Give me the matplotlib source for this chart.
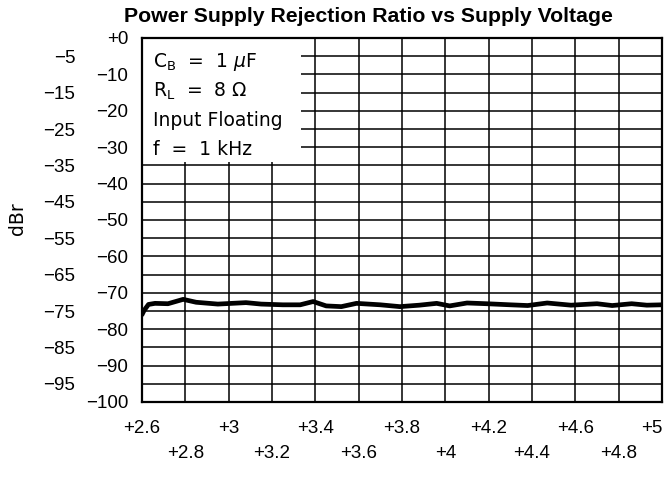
import matplotlib
matplotlib.use("Agg")
import matplotlib.pyplot as plt
from matplotlib.patches import Rectangle
import numpy as np

# PSRR trace read along the supply sweep
supply_v = [2.60, 2.61, 2.63, 2.66, 2.72, 2.79, 2.85, 2.95, 3.08, 3.15, 3.25,
            3.33, 3.39, 3.45, 3.52, 3.59, 3.70, 3.79, 3.88, 3.96, 4.02, 4.10,
            4.19, 4.30, 4.38, 4.47, 4.58, 4.70, 4.77, 4.86, 4.93, 5.00]
psrr_db = [-76.0, -74.8, -73.2, -72.9, -73.0, -71.8, -72.6, -73.1, -72.7, -73.1, -73.3,
           -73.3, -72.4, -73.6, -73.8, -72.9, -73.3, -73.8, -73.4, -72.9, -73.6, -72.8,
           -73.0, -73.3, -73.5, -72.8, -73.4, -73.0, -73.5, -73.0, -73.4, -73.3]

x_row1 = [2.6, 3.0, 3.4, 3.8, 4.2, 4.6, 5.0]
x_row2 = [2.8, 3.2, 3.6, 4.0, 4.4, 4.8]
y_even = list(range(0, -101, -10))
y_odd = list(range(-5, -96, -10))

notes = [r"C$_\mathregular{B}$  =  1 $\mu$F",
         r"R$_\mathregular{L}$  =  8 Ω",
         "Input Floating",
         "f  =  1 kHz"]

def vlabel(v):
    return "+%g" % v

def dblabel(v):
    return "+0" if v == 0 else "\u2212%d" % abs(v)

plt.rcParams["font.family"] = ["Liberation Sans", "DejaVu Sans"]
plt.rcParams["mathtext.fontset"] = "dejavusans"

fig = plt.figure(figsize=(6.71, 4.78), dpi=100)
ax = fig.add_axes([142 / 671, 1 - 402 / 478, 520 / 671, 364 / 478])

ax.plot(supply_v, psrr_db, color="black", lw=3.4, solid_capstyle="round",
        solid_joinstyle="round", zorder=3)

ax.set_xlim(2.6, 5.0)
ax.set_ylim(-100, 0)

ax.set_xticks(x_row1)
ax.set_xticklabels([vlabel(v) for v in x_row1])
ax.set_xticks(x_row2, minor=True)
ax.set_xticklabels([vlabel(v) for v in x_row2], minor=True)
ax.set_yticks(y_even)
ax.set_yticklabels([dblabel(v) for v in y_even])
ax.set_yticks(y_odd, minor=True)
ax.set_yticklabels([dblabel(v) for v in y_odd], minor=True)

ax.tick_params(axis="both", which="both", length=0, labelsize=13.5)
ax.tick_params(axis="x", which="major", pad=13)
ax.tick_params(axis="x", which="minor", pad=31)
ax.tick_params(axis="y", which="major", pad=10)
ax.tick_params(axis="y", which="minor", pad=48)
ax.get_xticklabels()[-1].set_horizontalalignment("right")

ax.grid(True, which="both", color="black", lw=1.1)
ax.set_axisbelow(True)
for s in ax.spines.values():
    s.set_linewidth(1.6)

# white legend panel covering the grid in the upper-left corner
ax.add_patch(Rectangle((2.6, -34), 0.735, 34, facecolor="white", edgecolor="none", zorder=1))
for i, t in enumerate(notes):
    ax.text(2.652, -6.6 - i * 8.0, t, fontsize=13.5, family="DejaVu Sans",
            va="center", ha="left", zorder=4)

fig.text(368 / 671, 1 - 17 / 478, "Power Supply Rejection Ratio vs Supply Voltage",
         ha="center", va="center", fontsize=15.3, fontweight="bold")
fig.text(18 / 671, 1 - 219 / 478, "dBr", rotation=90, ha="center", va="center",
         fontsize=13.5, family="DejaVu Sans")

fig.savefig("out.png", dpi=100)
